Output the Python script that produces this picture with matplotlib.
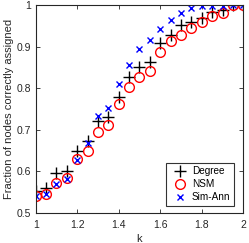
import numpy as np
import matplotlib
matplotlib.use("Agg")
import matplotlib.pyplot as plt

# --- Data ---
k = [1.0, 1.05, 1.1, 1.15, 1.2, 1.25, 1.3, 1.35, 1.4, 1.45, 1.5,
     1.55, 1.6, 1.65, 1.7, 1.75, 1.8, 1.85, 1.9, 1.95, 2.0]
degree = [0.552, 0.560, 0.596, 0.600, 0.649, 0.674, 0.721, 0.731, 0.780, 0.828, 0.852,
          0.863, 0.909, 0.928, 0.952, 0.960, 0.969, 0.983, 0.989, 1.0, 1.0]
nsm = [0.541, 0.544, 0.572, 0.583, 0.629, 0.649, 0.694, 0.711, 0.762, 0.802, 0.826,
       0.842, 0.887, 0.915, 0.928, 0.945, 0.960, 0.974, 0.982, 1.0, 1.0]
sim_ann = [0.540, 0.545, 0.568, 0.581, 0.628, 0.667, 0.734, 0.752, 0.810, 0.856, 0.894,
           0.916, 0.942, 0.965, 0.981, 0.993, 0.998, 0.999, 0.999, 1.0, 1.0]
x_ticks = [1, 1.2, 1.4, 1.6, 1.8, 2]
y_ticks = [0.5, 0.6, 0.7, 0.8, 0.9, 1]

plt.rcParams['font.family'] = ['Liberation Sans', 'DejaVu Sans']
axis_col = '#262626'

fig = plt.figure(figsize=(2.49, 2.43), dpi=100)
ax = fig.add_axes([0.1434, 0.1247, 0.8336, 0.8535])

ax.plot(k, degree, linestyle='none', marker='+', color='black',
        markersize=8, markeredgewidth=1.0, label='Degree')
ax.plot(k, nsm, linestyle='none', marker='o', color='red', markerfacecolor='none',
        markersize=7, markeredgewidth=1.0, label='NSM')
ax.plot(k, sim_ann, linestyle='none', marker='x', color='blue',
        markersize=5, markeredgewidth=1.0, label='Sim-Ann')

ax.set_xlim(1, 2)
ax.set_ylim(0.5, 1)
ax.set_xticks(x_ticks)
ax.set_yticks(y_ticks)
ax.set_xticklabels(['%g' % v for v in x_ticks])
ax.set_yticklabels(['%g' % v for v in y_ticks])

ax.tick_params(direction='in', top=True, right=True, length=3, width=0.6,
               labelsize=7.5, colors=axis_col)
ax.tick_params(axis='x', pad=5)
ax.tick_params(axis='y', pad=3.5)
for sp in ax.spines.values():
    sp.set_color(axis_col)
    sp.set_linewidth(0.8)

ax.set_xlabel('k', fontsize=8, color=axis_col, labelpad=3)
ax.set_ylabel('Fraction of nodes correctly assigned', fontsize=8, color=axis_col, labelpad=2)

leg = ax.legend(loc='lower right', bbox_to_anchor=(0.955, 0.034), borderaxespad=0,
                fontsize=7.2, frameon=True, fancybox=False, edgecolor='black',
                borderpad=0.35, handlelength=2.0, handletextpad=0.2,
                labelspacing=0.3)
leg.get_frame().set_linewidth(0.8)

fig.savefig('out.png', dpi=100)
